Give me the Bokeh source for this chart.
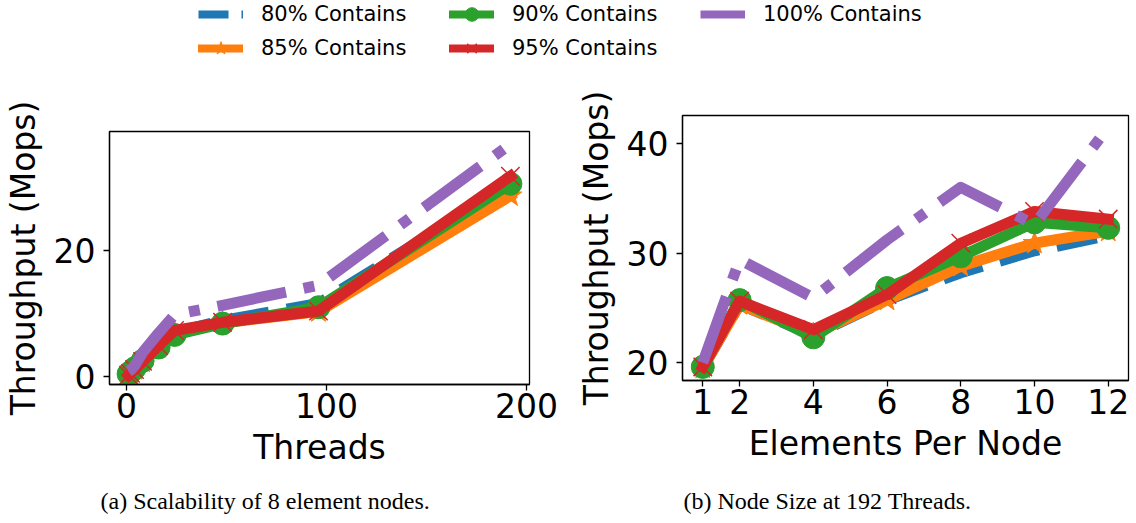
from bokeh.plotting import figure
from bokeh.layouts import column, row
from bokeh.models import Range1d, Legend, LegendItem, Label, FixedTicker, Spacer
from bokeh.embed import file_html
from bokeh.resources import INLINE

# ---------------- data ----------------
series_labels = ["80% Contains", "85% Contains", "90% Contains", "95% Contains", "100% Contains"]

threads = [1, 2, 4, 8, 16, 24, 48, 96, 192]
scal_80 = [0.3, 0.6, 1.2, 2.4, 4.7, 7.0, 8.9, 11.6, 30.4]
scal_85 = [0.2, 0.5, 1.1, 2.3, 4.6, 6.9, 8.5, 10.3, 28.7]
scal_90 = [0.4, 0.7, 1.3, 2.5, 4.6, 6.6, 8.4, 11.0, 30.6]
scal_95 = [0.2, 0.5, 1.1, 2.4, 4.9, 7.3, 8.6, 10.4, 31.8]
scal_100 = [0.8, 1.0, 1.7, 3.8, 6.9, 9.8, 11.3, 14.5, 36.9]

elems = [1, 2, 4, 6, 8, 10, 12]
node_80 = [19.5, 25.3, 22.5, 25.7, 28.2, 30.2, 31.6]
node_85 = [19.5, 25.3, 22.6, 25.7, 28.8, 30.9, 32.0]
node_90 = [19.6, 25.7, 22.3, 26.8, 29.7, 32.8, 32.3]
node_95 = [19.6, 25.6, 23.0, 26.2, 30.9, 33.8, 33.1]
node_100 = [20.0, 29.4, 25.9, 31.2, 36.0, 32.6, 41.5]

thread_ticks = [0, 100, 200]
thread_y_ticks = [0, 20]
elem_ticks = [1, 2, 4, 6, 8, 10, 12]
elem_y_ticks = [20, 30, 40]

caption_a = "(a) Scalability of 8 element nodes."
caption_b = "(b) Node Size at 192 Threads."

# ---------------- styles ----------------
colors = ["#1f77b4", "#ff7f0e", "#2ca02c", "#d62728", "#9467bd"]
markers = [None, "star", "circle", "x", None]
FONT = "DejaVu Sans"


def dash_for(i, lw):
    if i == 0:
        return "%d %d" % (round(3.7 * lw), round(1.6 * lw))
    if i == 4:
        return "%d %d %d %d" % (round(6.4 * lw), round(1.6 * lw), round(1.0 * lw), round(1.6 * lw))
    return "solid"


def draw_series(p, xs, ys_list, lw=11):
    rends = []
    for i, (ys, c, m) in enumerate(zip(ys_list, colors, markers)):
        d = dash_for(i, lw)
        rs = []
        cap = "butt" if d != "solid" else "square"
        rs.append(p.line(xs, ys, line_color=c, line_width=lw, line_dash=d,
                         line_join="round", line_cap=cap))
        if m == "circle":
            rs.append(p.scatter(xs, ys, marker="circle", size=23, fill_color=c,
                                line_color=c))
        elif m == "star":
            rs.append(p.scatter(xs, ys, marker="star", size=24, fill_color=c,
                                line_color=c))
        elif m == "x":
            rs.append(p.scatter(xs, ys, marker="x", size=26, line_color=c,
                                line_width=1.5))
        rends.append(rs)
    return rends


def style(p, xticks, yticks, xlabel, ylabel):
    p.xgrid.visible = False
    p.ygrid.visible = False
    p.outline_line_color = "black"
    p.outline_line_width = 1.3
    p.outline_line_alpha = 1.0
    p.background_fill_color = "white"
    p.border_fill_color = "white"
    p.xaxis.ticker = FixedTicker(ticks=xticks)
    p.yaxis.ticker = FixedTicker(ticks=yticks)
    p.xaxis.axis_label = xlabel
    p.yaxis.axis_label = ylabel
    for ax in p.xaxis + p.yaxis:
        ax.major_label_text_font = FONT
        ax.major_label_text_font_size = "33px"
        ax.major_label_text_color = "black"
        ax.axis_label_text_font = FONT
        ax.axis_label_text_font_size = "33px"
        ax.axis_label_text_font_style = "normal"
        ax.axis_label_text_color = "black"
        ax.major_tick_in = 0
        ax.major_tick_out = 6
        ax.minor_tick_in = 0
        ax.minor_tick_out = 0
        ax.major_tick_line_color = "black"
        ax.major_tick_line_width = 1.3
        ax.axis_line_color = "black"
        ax.axis_line_width = 1.3
    p.xaxis.major_label_standoff = 2
    p.yaxis.major_label_standoff = 8
    p.xaxis.axis_label_standoff = 7
    p.yaxis.axis_label_standoff = 8


# ---------------- left plot ----------------
pa = figure(width=568, height=402, x_range=Range1d(-8.55, 201.55),
            y_range=Range1d(-1.27, 38.9), toolbar_location=None,
            output_backend="svg", min_border_left=103, min_border_right=39,
            min_border_top=53, min_border_bottom=96)
draw_series(pa, threads, [scal_80, scal_85, scal_90, scal_95, scal_100])
style(pa, thread_ticks, thread_y_ticks, "Threads", "Throughput (Mops)")

# ---------------- right plot ----------------
pb = figure(width=568, height=414, x_range=Range1d(0.45, 12.55),
            y_range=Range1d(18.36, 42.56), toolbar_location=None,
            output_backend="svg", min_border_left=114, min_border_right=8,
            min_border_top=53, min_border_bottom=96)
draw_series(pb, elems, [node_80, node_85, node_90, node_95, node_100])
style(pb, elem_ticks, elem_y_ticks, "Elements Per Node", "Throughput (Mops)")

# ---------------- legend strip ----------------
pl = figure(width=1136, height=62, x_range=Range1d(1000, 1001),
            y_range=Range1d(1000, 1001), toolbar_location=None,
            output_backend="svg", min_border=0,
            x_axis_location=None, y_axis_location=None)
pl.xgrid.visible = False
pl.ygrid.visible = False
pl.outline_line_color = None
leg_rends = draw_series(pl, threads, [scal_80, scal_85, scal_90, scal_95, scal_100], lw=8)
items = [LegendItem(label=lab, renderers=r) for lab, r in zip(series_labels, leg_rends)]
legend = Legend(items=items, orientation="vertical", nrows=2, location=(198, -3),
                label_text_font=FONT, label_text_font_size="21px",
                label_text_color="black",
                glyph_width=45, glyph_height=34, label_standoff=18, spacing=-2,
                label_width=188, padding=0, margin=0, border_line_alpha=0,
                background_fill_alpha=0)
pl.add_layout(legend)

# ---------------- caption strip ----------------
pc = figure(width=1136, height=43, toolbar_location=None, output_backend="svg",
            min_border=0, x_axis_location=None, y_axis_location=None)
pc.xgrid.visible = False
pc.ygrid.visible = False
pc.outline_line_color = None
for txt, xpos in [(caption_a, 100), (caption_b, 683)]:
    pc.add_layout(Label(x=xpos, y=23, x_units="screen", y_units="screen", text=txt,
                        text_font="Liberation Serif", text_font_size="24px",
                        text_color="black", text_baseline="middle", text_align="left"))

layout = column(pl, row(column(Spacer(width=568, height=16), pa), pb), pc)
open("out.html", "w").write(file_html(layout, INLINE))
